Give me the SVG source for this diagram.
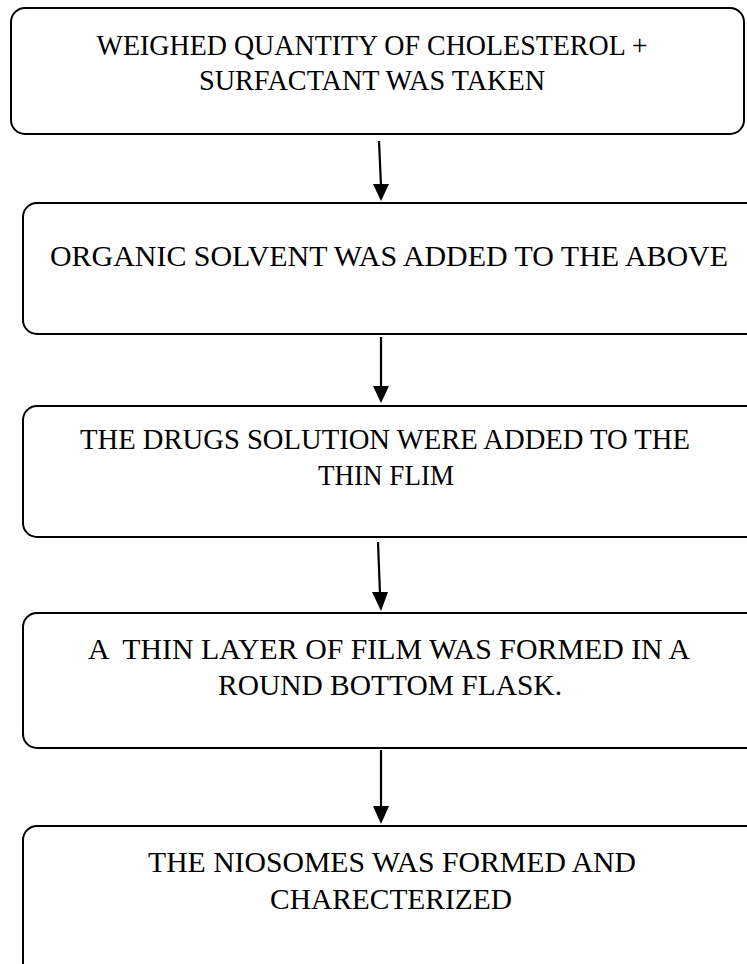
<svg xmlns="http://www.w3.org/2000/svg" width="747" height="964" viewBox="0 0 747 964">
<style>
.box{fill:#fff;stroke:#000;stroke-width:2}
.t{font-family:"Liberation Serif","Times New Roman",serif;font-size:29px;fill:#000;text-anchor:middle}
.ln{stroke:#000;stroke-width:2.2;fill:none}
.hd{fill:#000}
</style>
<rect width="747" height="964" fill="#fff"/>
<g id="n1"><rect class="box" x="11" y="8" width="733" height="126" rx="14"/>
<text class="t" x="372" y="55" textLength="551" lengthAdjust="spacingAndGlyphs">WEIGHED QUANTITY OF CHOLESTEROL +</text>
<text class="t" x="372" y="90" textLength="346" lengthAdjust="spacingAndGlyphs">SURFACTANT WAS TAKEN</text></g>
<g id="n2"><rect class="box" x="23" y="203" width="740" height="131" rx="14"/>
<text class="t" x="389" y="266" textLength="678" lengthAdjust="spacingAndGlyphs">ORGANIC SOLVENT WAS ADDED TO THE ABOVE</text></g>
<g id="n3"><rect class="box" x="23" y="406" width="740" height="131" rx="14"/>
<text class="t" x="385" y="449" textLength="610" lengthAdjust="spacingAndGlyphs">THE DRUGS SOLUTION WERE ADDED TO THE</text>
<text class="t" x="386" y="485" textLength="136" lengthAdjust="spacingAndGlyphs">THIN FLIM</text></g>
<g id="n4"><rect class="box" x="23" y="613" width="740" height="135" rx="14"/>
<text class="t" x="389" y="659" textLength="602" lengthAdjust="spacingAndGlyphs" xml:space="preserve">A  THIN LAYER OF FILM WAS FORMED IN A</text>
<text class="t" x="390" y="695" textLength="344" lengthAdjust="spacingAndGlyphs">ROUND BOTTOM FLASK.</text></g>
<g id="n5"><rect class="box" x="23" y="826" width="740" height="170" rx="14"/>
<text class="t" x="392" y="872" textLength="488" lengthAdjust="spacingAndGlyphs">THE NIOSOMES WAS FORMED AND</text>
<text class="t" x="391" y="909" textLength="242" lengthAdjust="spacingAndGlyphs">CHARECTERIZED</text></g>
<g id="connectors">
<path class="ln" d="M379,141 L381,186"/>
<path class="hd" d="M373,184 L389,184 L381,201 Z"/>
<path class="ln" d="M381,337 L381,388"/>
<path class="hd" d="M373,386 L389,386 L381,403 Z"/>
<path class="ln" d="M378,542 L380,594"/>
<path class="hd" d="M372,592 L388,592 L381,611 Z"/>
<path class="ln" d="M381,750 L381,808"/>
<path class="hd" d="M373,806 L389,806 L381,824 Z"/>
</g>
</svg>
